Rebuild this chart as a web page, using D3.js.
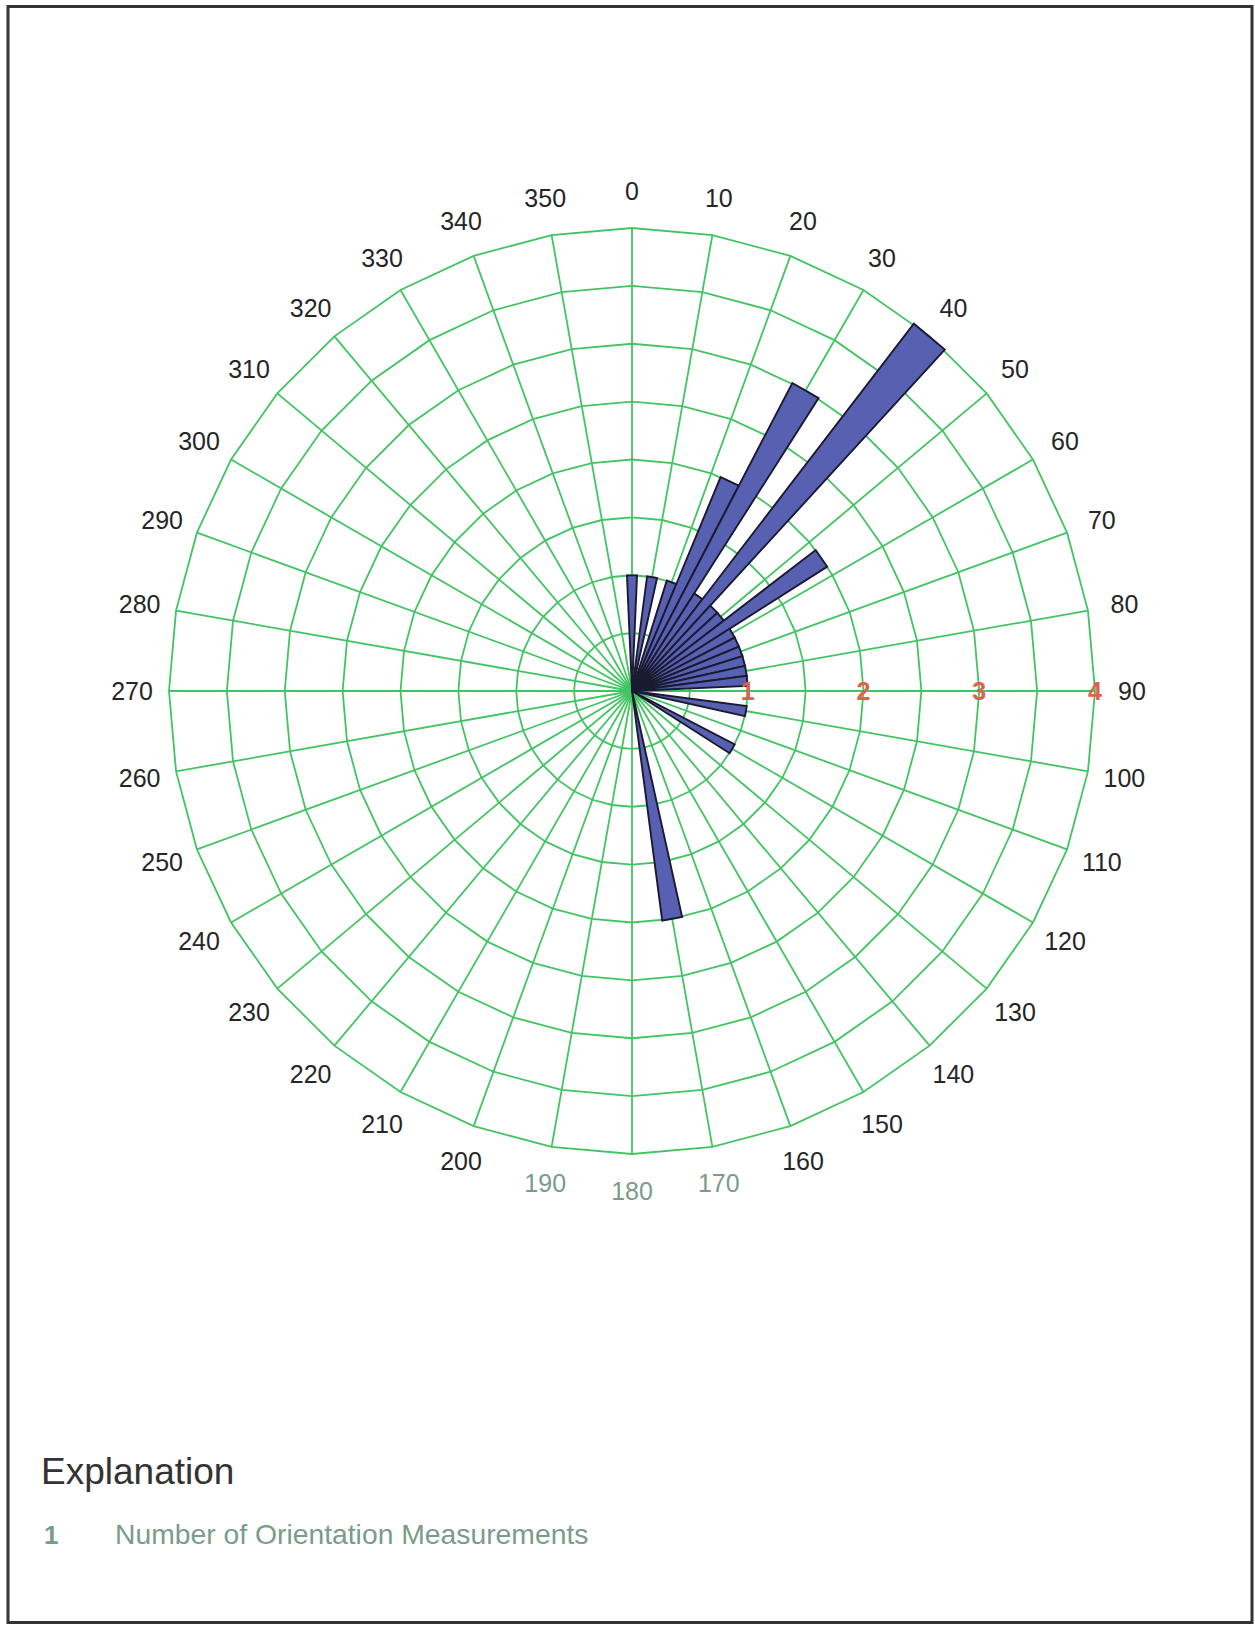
<!DOCTYPE html>
<html>
<head>
<meta charset="utf-8">
<script src="https://cdn.jsdelivr.net/npm/d3@7"></script>
<style>
  body { margin: 0; background: #fff; }
  svg { display: block; font-family: "Liberation Sans", Arial, sans-serif; }
</style>
</head>
<body>
<script>
// bin centres (degrees, 5 degree bins) and number of measurements in each
var directions = [0, 10, 20, 25, 30, 35, 40, 45, 50, 55, 60, 65, 70, 75, 80, 85, 100, 120, 170];
var counts     = [1, 1, 1, 2, 3, 1, 4, 1, 1, 2, 1, 1, 1, 1, 1, 1, 1, 1, 2];

// grid
var spokeAngles = d3.range(0, 360, 10);
var ringValues = [0.5, 1, 1.5, 2, 2.5, 3, 3.5, 4];
var countLabels = [1, 2, 3, 4];
var mutedLabels = [170, 180, 190];

var legendTitle = "Explanation";
var legendKey = "1";
var legendText = "Number of Orientation Measurements";

var width = 1255, height = 1625;
var cx = 632, cy = 691, R = 463;
var binWidth = 5;

var svg = d3.select("body").append("svg")
  .attr("width", width)
  .attr("height", height);

// page frame
svg.append("rect")
  .attr("x", 8).attr("y", 6.5)
  .attr("width", 1244).attr("height", 1616)
  .attr("fill", "none")
  .attr("stroke", "#333")
  .attr("stroke-width", 3);

var rScale = d3.scaleLinear().domain([0, 4]).range([0, R]);
var rad = function(deg) { return deg * Math.PI / 180; };

var g = svg.append("g").attr("transform", "translate(" + cx + "," + cy + ")");

// rings (drawn as polygons through the spokes)
var ring = d3.lineRadial()
  .angle(function(d) { return rad(d[0]); })
  .radius(function(d) { return rScale(d[1]); })
  .curve(d3.curveLinearClosed);

g.selectAll(".ring")
  .data(ringValues)
  .enter()
  .append("path")
  .attr("class", "ring")
  .attr("d", function(v) { return ring(spokeAngles.map(function(a) { return [a, v]; })); })
  .attr("fill", "none")
  .attr("stroke", "#43c463")
  .attr("stroke-width", 1.8);

// spokes
g.selectAll(".spoke")
  .data(spokeAngles)
  .enter()
  .append("line")
  .attr("class", "spoke")
  .attr("x1", 0).attr("y1", 0)
  .attr("x2", function(a) { return rScale(4) * Math.sin(rad(a)); })
  .attr("y2", function(a) { return -rScale(4) * Math.cos(rad(a)); })
  .attr("stroke", "#43c463")
  .attr("stroke-width", 1.8);

// petals
var bars = directions.map(function(d, i) { return {dir: d, n: counts[i]}; });

g.selectAll(".petal")
  .data(bars)
  .enter()
  .append("path")
  .attr("class", "petal")
  .attr("d", function(b) {
    return ring([[b.dir, 0], [b.dir - binWidth / 2, b.n], [b.dir + binWidth / 2, b.n]]);
  })
  .attr("fill", "#5860b2")
  .attr("stroke", "#1a1a30")
  .attr("stroke-width", 1.9)
  .attr("stroke-linejoin", "miter");

// direction labels
g.selectAll(".dirLabel")
  .data(spokeAngles)
  .enter()
  .append("text")
  .attr("class", "dirLabel")
  .attr("x", function(a) { return 500 * Math.sin(rad(a)); })
  .attr("y", function(a) { return -500 * Math.cos(rad(a)); })
  .attr("text-anchor", "middle")
  .attr("dy", "0.35em")
  .attr("font-size", 25)
  .attr("fill", function(a) { return mutedLabels.indexOf(a) >= 0 ? "#7a9c8a" : "#262626"; })
  .text(function(a) { return a; });

// count labels along the 90 degree spoke
g.selectAll(".countLabel")
  .data(countLabels)
  .enter()
  .append("text")
  .attr("class", "countLabel")
  .attr("x", function(v) { return rScale(v); })
  .attr("y", 0)
  .attr("text-anchor", "middle")
  .attr("dy", "0.36em")
  .attr("font-size", 25)
  .attr("font-weight", "bold")
  .attr("fill", "#e0604e")
  .text(function(v) { return v; });

// explanation
svg.append("text")
  .attr("x", 41).attr("y", 1484)
  .attr("font-size", 37)
  .attr("fill", "#333")
  .text(legendTitle);

svg.append("text")
  .attr("x", 44).attr("y", 1544)
  .attr("font-size", 26)
  .attr("font-weight", "bold")
  .attr("fill", "#7a9c8a")
  .text(legendKey);

svg.append("text")
  .attr("x", 115).attr("y", 1544)
  .attr("font-size", 28.3)
  .attr("fill", "#7a9c8a")
  .text(legendText);
</script>
</body>
</html>
